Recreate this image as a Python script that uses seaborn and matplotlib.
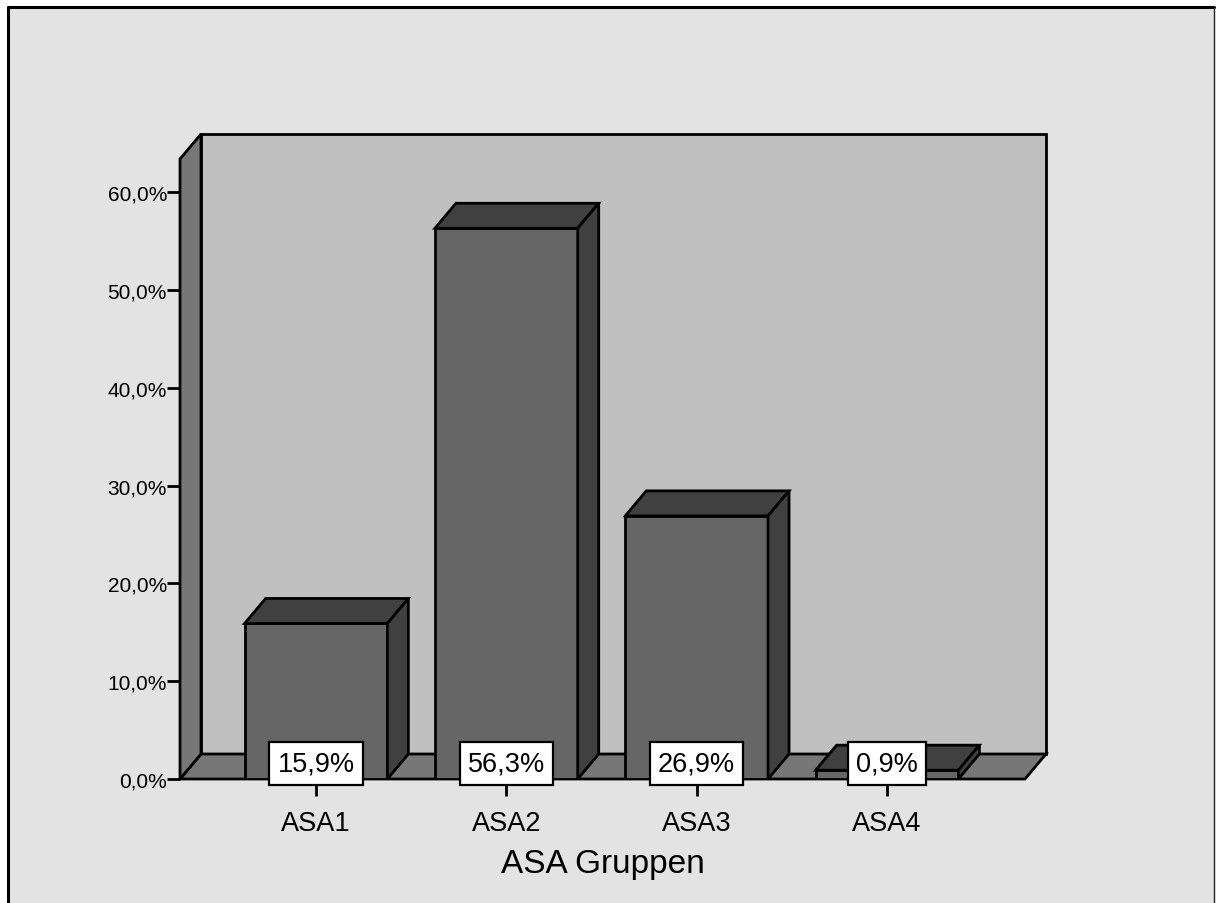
import matplotlib
matplotlib.use("Agg")
import matplotlib.pyplot as plt
from matplotlib.patches import Polygon, Rectangle
from matplotlib.lines import Line2D
from matplotlib.ticker import FuncFormatter
import seaborn as sns
import pandas as pd

# Data
categories = ["ASA1", "ASA2", "ASA3", "ASA4"]
percent = [15.9, 56.3, 26.9, 0.9]
value_labels = ["15,9%", "56,3%", "26,9%", "0,9%"]
y_ticks = [0, 10, 20, 30, 40, 50, 60]
x_title = "ASA Gruppen"

sns.set_style("white")
plt.rcParams["font.family"] = ["Liberation Sans", "DejaVu Sans"]
plt.rcParams["text.color"] = "black"
plt.rcParams["axes.labelcolor"] = "black"
plt.rcParams["xtick.color"] = "black"
plt.rcParams["ytick.color"] = "black"

W, H, DPI = 1216, 904, 100
fig = plt.figure(figsize=(W / DPI, H / DPI), dpi=DPI, facecolor="white")

# Grey panel with its frame
fig.add_artist(Rectangle((8 / W, -0.05), (1214 - 8) / W, 1.05 - 8 / H,
                         transform=fig.transFigure, facecolor="#e3e3e3",
                         edgecolor="none", zorder=0))
fig.add_artist(Line2D([8 / W, 8 / W], [-0.05, 1 - 8 / H], transform=fig.transFigure,
                      color="black", lw=2.2, zorder=1))
fig.add_artist(Line2D([8 / W, 1214 / W], [1 - 8 / H, 1 - 8 / H], transform=fig.transFigure,
                      color="black", lw=2.2, zorder=1))
fig.add_artist(Line2D([1214 / W, 1214 / W], [-0.05, 1 - 8 / H], transform=fig.transFigure,
                      color="#222222", lw=1.0, zorder=1))

# Front plane of the plot box in pixels
left_px, right_px, base_px, top_px = 180, 1025, 780, 160
ax = fig.add_axes([left_px / W, (H - base_px) / H,
                   (right_px - left_px) / W, (base_px - top_px) / H])
ax.set_facecolor("none")
for s in ax.spines.values():
    s.set_visible(False)

lw = 2.0
df = pd.DataFrame({"group": categories, "pct": percent})
sns.barplot(data=df, x="group", y="pct", color="#666666", saturation=1,
            edgecolor="black", linewidth=lw, width=0.75, ax=ax, zorder=2)
bars = list(ax.patches)

x0, x1 = -0.7145, 3.725
ymax = 63.38
ax.set_xlim(x0, x1)
ax.set_ylim(0, ymax)

# Depth offset (pixels) converted to data units
ddx = 21 * (x1 - x0) / (right_px - left_px)
ddy = 25 * ymax / (base_px - top_px)

wall_kw = dict(edgecolor="black", linewidth=lw, clip_on=False, joinstyle="miter")
ax.add_patch(Rectangle((x0 + ddx, ddy), x1 - x0, ymax, facecolor="#c0c0c0",
                       zorder=0.5, **wall_kw))
ax.add_patch(Polygon([(x0, 0), (x1, 0), (x1 + ddx, ddy), (x0 + ddx, ddy)],
                     closed=True, facecolor="#777777", zorder=0.6, **wall_kw))
ax.add_patch(Polygon([(x0, 0), (x0, ymax), (x0 + ddx, ymax + ddy), (x0 + ddx, ddy)],
                     closed=True, facecolor="#777777", zorder=0.7, **wall_kw))

# Top and side faces of each bar
for bar in bars:
    bx, bw, bh = bar.get_x(), bar.get_width(), bar.get_height()
    ax.add_patch(Polygon([(bx, bh), (bx + bw, bh), (bx + bw + ddx, bh + ddy), (bx + ddx, bh + ddy)],
                         closed=True, facecolor="#404040", zorder=2.1, **wall_kw))
    ax.add_patch(Polygon([(bx + bw, 0), (bx + bw, bh), (bx + bw + ddx, bh + ddy), (bx + bw + ddx, ddy)],
                         closed=True, facecolor="#404040", zorder=2.1, **wall_kw))

# Value labels
for i, lab in enumerate(value_labels):
    ax.text(i, 1.58, lab, ha="center", va="center", fontsize=19.5, zorder=5,
            bbox=dict(boxstyle="square,pad=0.3", facecolor="white",
                      edgecolor="black", linewidth=1.6))

ax.set_yticks(y_ticks)
ax.yaxis.set_major_formatter(FuncFormatter(lambda v, p: f"{v:.1f}%".replace(".", ",")))
ax.tick_params(axis="y", left=True, length=9.4, width=2.0, pad=0, labelsize=15)
ax.tick_params(axis="x", bottom=True, length=12, width=2.0, pad=10, labelsize=19.5)
ax.set_ylabel("")
ax.set_xlabel(x_title, fontsize=24, labelpad=9)

fig.savefig("out.png", dpi=DPI, facecolor="white")
